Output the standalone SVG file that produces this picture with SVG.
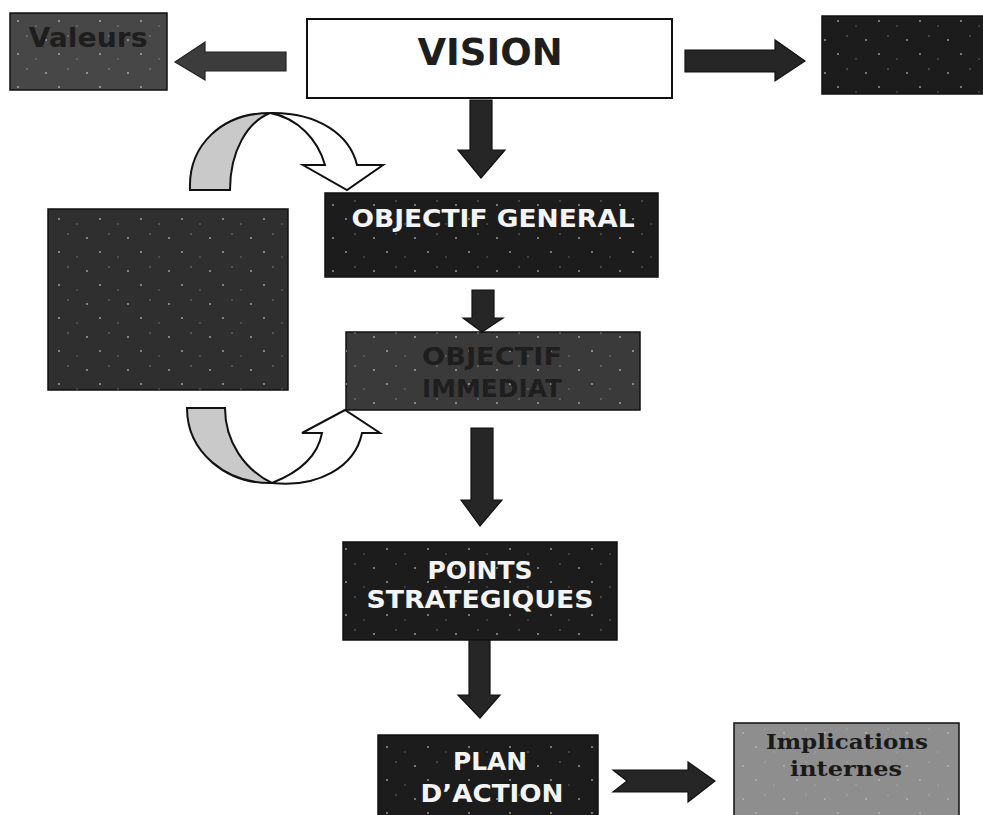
<svg xmlns="http://www.w3.org/2000/svg" width="983" height="815" viewBox="0 0 983 815">
<defs>
<pattern id="speck" width="41" height="33" patternUnits="userSpaceOnUse">
<circle cx="5" cy="7" r="0.9" fill="#fff" opacity="0.6"/>
<circle cx="27" cy="3" r="0.7" fill="#fff" opacity="0.5"/>
<circle cx="18" cy="21" r="0.9" fill="#fff" opacity="0.6"/>
<circle cx="36" cy="26" r="0.7" fill="#fff" opacity="0.4"/>
</pattern>
<style>
.box{stroke:#111;stroke-width:1.5}
.dark{fill:#1c1c1c}
.mid{fill:#3a3a3a}
.spk{fill:url(#speck);stroke:none}
.wt{fill:#f4f4f4;font-family:"DejaVu Sans",Verdana,sans-serif;font-weight:bold;text-anchor:middle}
.dt{fill:#1e1e1e;font-family:"DejaVu Sans",Verdana,sans-serif;font-weight:bold;text-anchor:middle}
.st{fill:#1a1a1a;font-family:"DejaVu Serif",Georgia,serif;font-weight:bold;text-anchor:middle}
.arr{fill:#262626;stroke:#111;stroke-width:1.2}
.arrl{fill:#3c3c3c;stroke:#222;stroke-width:1.2}
.cg{fill:#c9c9c9;stroke:#111;stroke-width:2}
.cw{fill:#fff;stroke:#111;stroke-width:2}
</style>
</defs>
<rect width="983" height="815" fill="#fff"/>

<g id="valeurs">
<rect class="box" x="10" y="13" width="157" height="77" fill="#474747"/>
<rect class="spk" x="10" y="13" width="157" height="77"/>
<text class="dt" x="88" y="47" font-size="26" textLength="119" lengthAdjust="spacingAndGlyphs">Valeurs</text>
</g>

<g id="vision">
<rect x="307" y="19" width="365" height="79" fill="#fff" stroke="#111" stroke-width="2"/>
<text class="dt" x="490" y="65" font-size="37" fill="#222">VISION</text>
</g>

<g id="droite">
<rect class="box dark" x="822" y="16" width="165" height="78"/>
<rect class="spk" x="822" y="16" width="165" height="78"/>
</g>

<g id="gauche">
<rect class="box" x="48" y="209" width="240" height="181" fill="#2f2f2f"/>
<rect class="spk" x="48" y="209" width="240" height="181"/>
</g>

<g id="objectif-general">
<rect class="box dark" x="325" y="193" width="333" height="84"/>
<rect class="spk" x="325" y="193" width="333" height="84"/>
<text class="wt" x="493" y="227" font-size="24" textLength="283" lengthAdjust="spacingAndGlyphs">OBJECTIF GENERAL</text>
</g>

<g id="objectif-immediat">
<rect class="box mid" x="346" y="332" width="294" height="78"/>
<rect class="spk" x="346" y="332" width="294" height="78"/>
<text class="dt" x="492" y="365" font-size="24" textLength="140" lengthAdjust="spacingAndGlyphs">OBJECTIF</text>
<text class="dt" x="492" y="397" font-size="24" textLength="140" lengthAdjust="spacingAndGlyphs">IMMEDIAT</text>
</g>

<g id="points-strategiques">
<rect class="box dark" x="343" y="542" width="274" height="98"/>
<rect class="spk" x="343" y="542" width="274" height="98"/>
<text class="wt" x="480" y="579" font-size="24" textLength="105" lengthAdjust="spacingAndGlyphs">POINTS</text>
<text class="wt" x="480" y="608" font-size="24" textLength="227" lengthAdjust="spacingAndGlyphs">STRATEGIQUES</text>
</g>

<g id="plan-action">
<rect class="box dark" x="378" y="735" width="220" height="85"/>
<rect class="spk" x="378" y="735" width="220" height="85"/>
<text class="wt" x="490" y="770" font-size="24" textLength="74" lengthAdjust="spacingAndGlyphs">PLAN</text>
<text class="wt" x="492" y="802" font-size="24" textLength="143" lengthAdjust="spacingAndGlyphs">D’ACTION</text>
</g>

<g id="implications">
<rect class="box" x="734" y="723" width="225" height="96" fill="#8e8e8e"/>
<rect class="spk" x="734" y="723" width="225" height="96" opacity="0.6"/>
<text class="st" x="847" y="749" font-size="21" textLength="162" lengthAdjust="spacingAndGlyphs">Implications</text>
<text class="st" x="846" y="776" font-size="21" textLength="112" lengthAdjust="spacingAndGlyphs">internes</text>
</g>

<g id="connectors">
<polygon class="arrl" points="286,52 205,52 205,42 175,62 205,80 205,71 286,71"/>
<polygon class="arr" points="685,50 775,50 775,40 805,61 775,81 775,72 685,72"/>
<polygon class="arr" points="470,100 492,100 492,150 505,150 481,178 458,150 470,150"/>
<polygon class="arr" points="472,290 494,290 494,318 503,318 482,332 463,318 472,318"/>
<polygon class="arr" points="471,428 493,428 493,500 502,500 480,526 461,500 471,500"/>
<polygon class="arr" points="469,640 490,640 490,695 500,695 480,718 458,695 469,695"/>
<polygon class="arr" points="613,770 688,770 688,762 715,781 688,802 688,792 613,792 627,781"/>
<path class="cg" d="M190,190 C188,145 222,113 270,113 C248,122 230,150 230,190 Z"/>
<path class="cw" d="M270,113 C318,112 350,135 357,165 L383,165 L347,190 L303,165 L325,165 C318,140 298,118 270,113 Z"/>
<path class="cg" d="M187,408 L225,408 C225,442 245,470 272,483 C226,484 187,452 187,408 Z"/>
<path class="cw" d="M272,483 C300,472 318,455 322,433 L302,433 L345,410 L380,433 L362,433 C355,467 318,488 272,483 Z"/>
</g>
</svg>
